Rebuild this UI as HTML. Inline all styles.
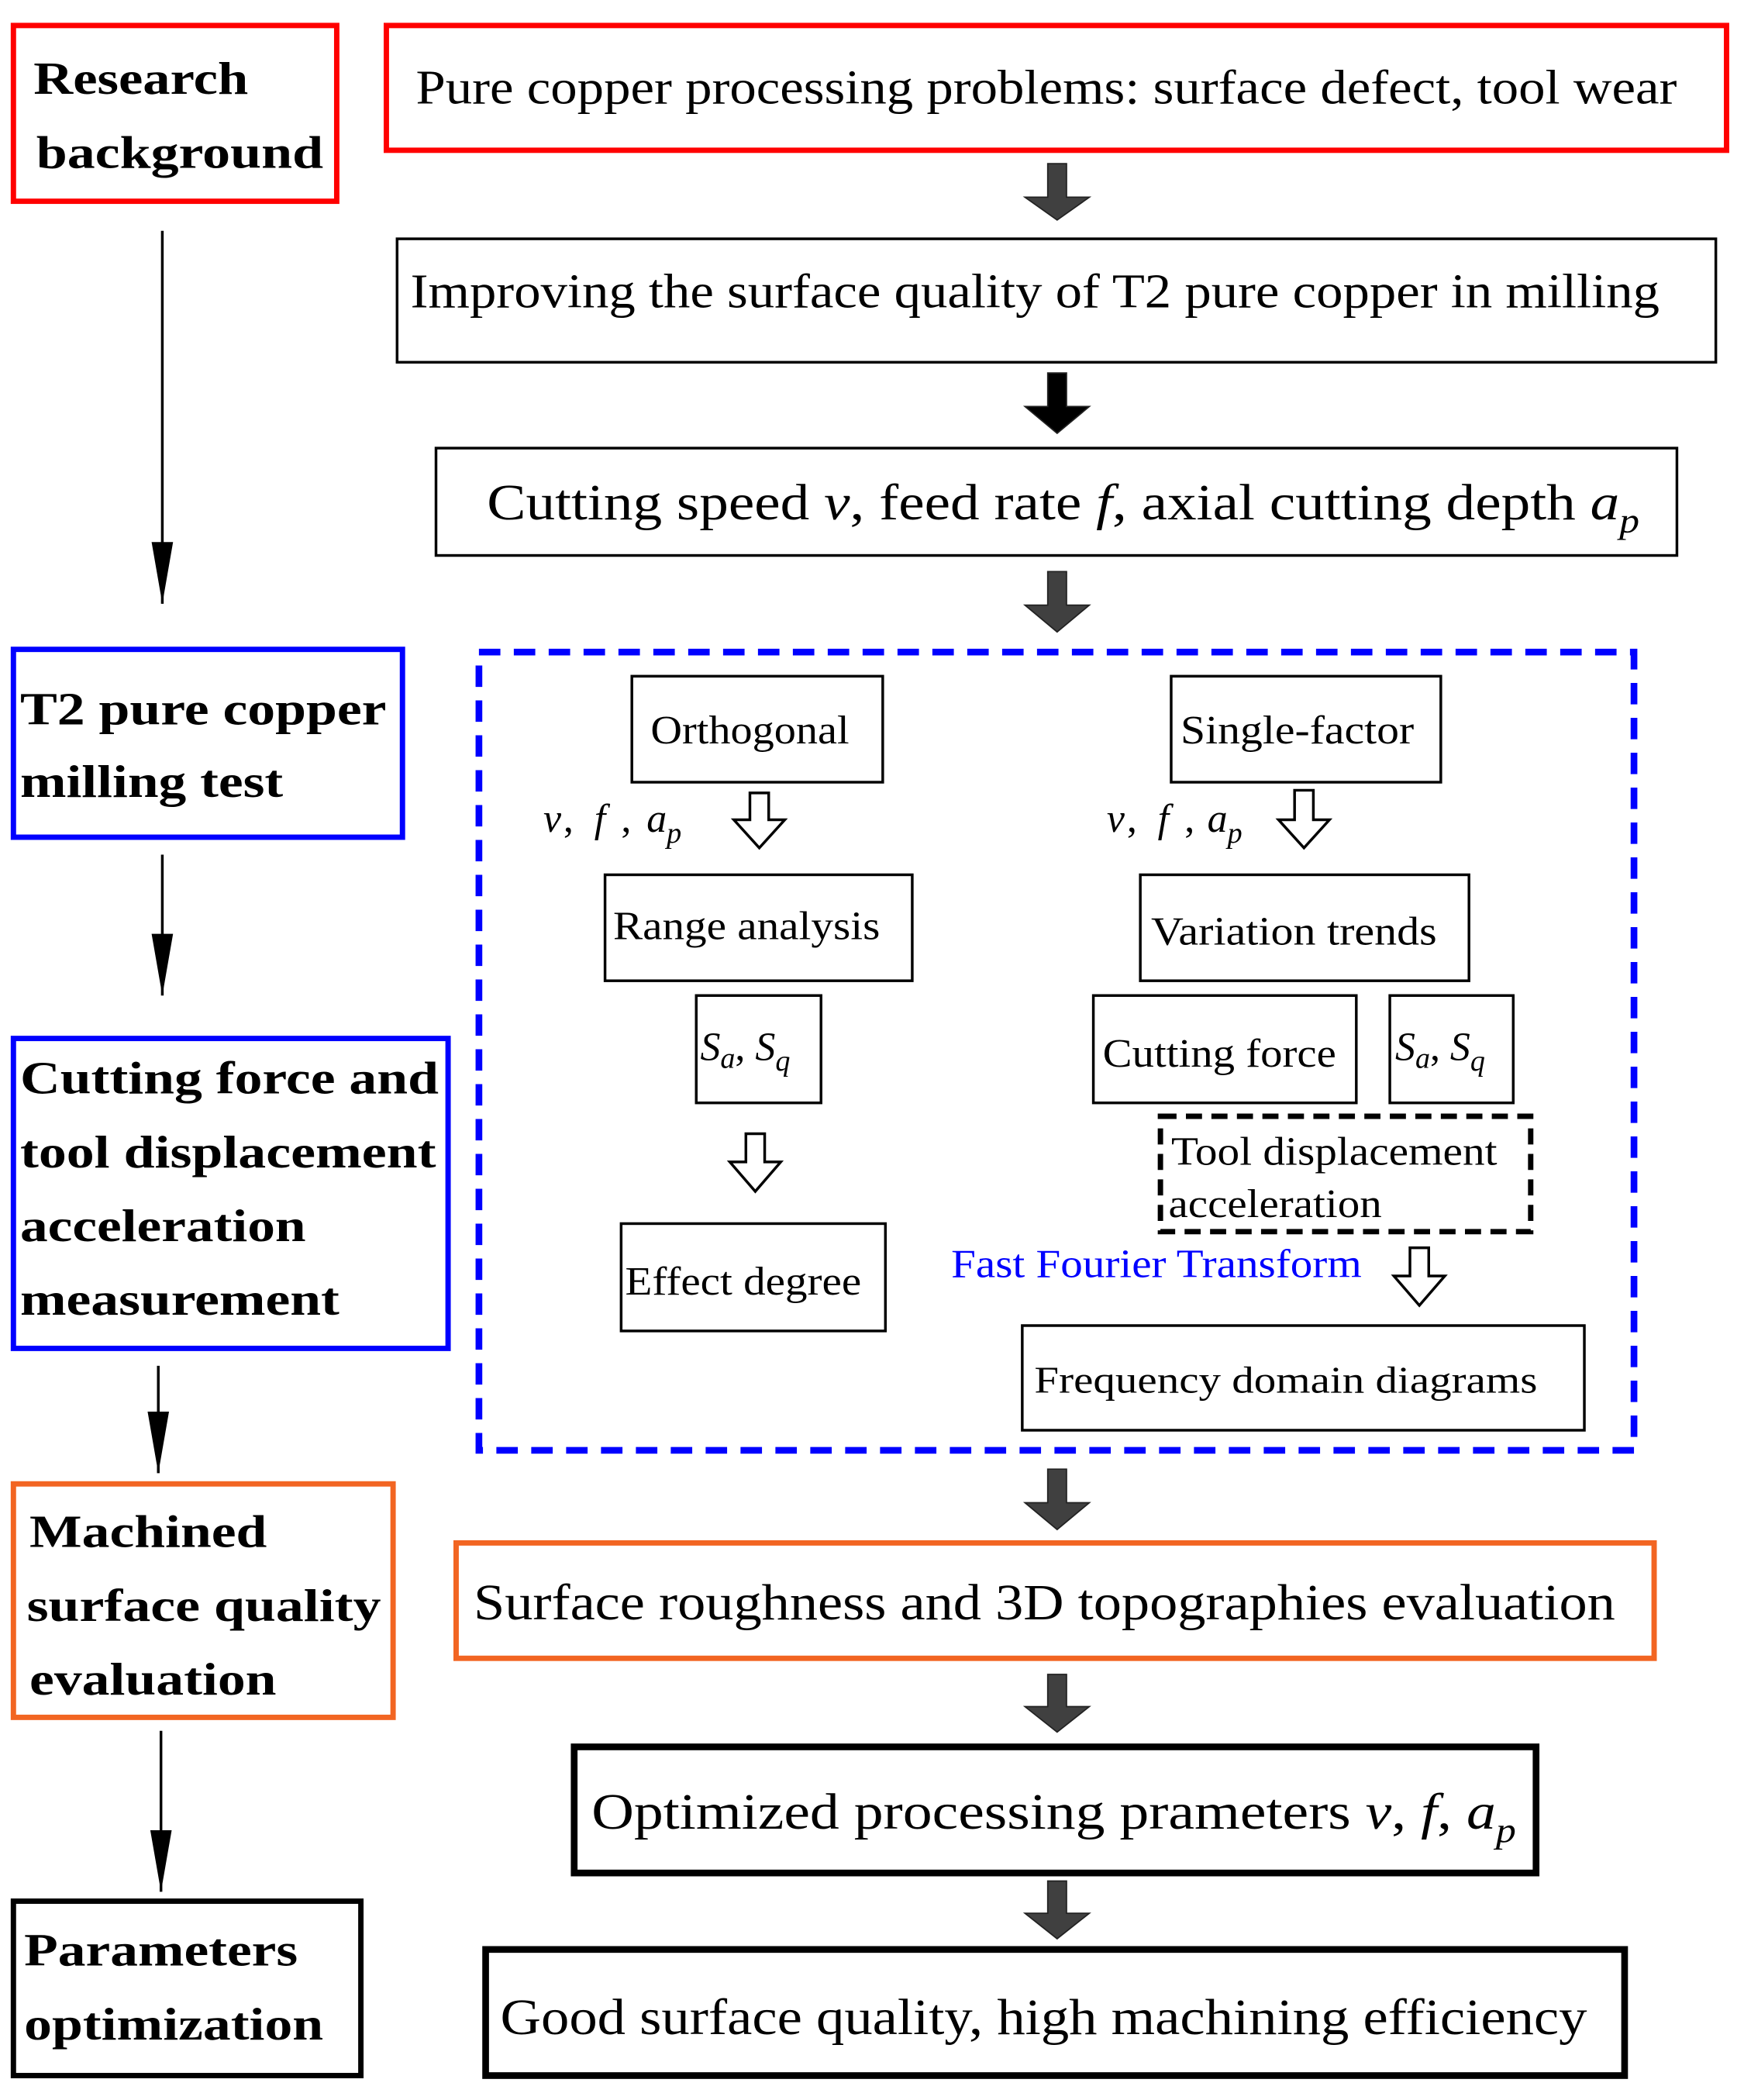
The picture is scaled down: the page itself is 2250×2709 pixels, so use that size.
<!DOCTYPE html>
<html><head><meta charset="utf-8"><style>html,body{margin:0;padding:0;background:#fff}svg{display:block}</style></head>
<body>
<svg width="2250" height="2709" viewBox="0 0 1300 1565.2" xmlns="http://www.w3.org/2000/svg" font-family="'Liberation Serif',serif">
<defs>
<marker id="ah" markerWidth="16" markerHeight="48" refX="8" refY="46" orient="0" markerUnits="userSpaceOnUse"><path d="M0,0 L16,0 L8,46 Z" fill="#000"/></marker>
</defs>
<g fill="none">
<rect x="10" y="19" width="241" height="131" stroke="#f00" stroke-width="4"/>
<rect x="10" y="484" width="290" height="140" stroke="#00f" stroke-width="4"/>
<rect x="10" y="774" width="324" height="231" stroke="#00f" stroke-width="4"/>
<rect x="10" y="1106" width="283" height="174" stroke="#f26522" stroke-width="4"/>
<rect x="10" y="1417" width="259" height="130" stroke="#000" stroke-width="4"/>
<rect x="288" y="19" width="999" height="93" stroke="#f00" stroke-width="4"/>
<rect x="296" y="178" width="983" height="92" stroke="#000" stroke-width="2"/>
<rect x="325" y="334" width="925" height="80" stroke="#000" stroke-width="2"/>
<rect x="357" y="486" width="861" height="595" stroke="#00f" stroke-width="5" stroke-dasharray="16,10"/>
<rect x="340" y="1150" width="893" height="86" stroke="#f26522" stroke-width="4"/>
<rect x="428" y="1302" width="717" height="94" stroke="#000" stroke-width="5"/>
<rect x="362" y="1453" width="849" height="94" stroke="#000" stroke-width="5"/>
<rect x="471" y="504" width="187" height="79" stroke="#000" stroke-width="2"/>
<rect x="873" y="504" width="201" height="79" stroke="#000" stroke-width="2"/>
<rect x="451" y="652" width="229" height="79" stroke="#000" stroke-width="2"/>
<rect x="850" y="652" width="245" height="79" stroke="#000" stroke-width="2"/>
<rect x="519" y="742" width="93" height="80" stroke="#000" stroke-width="2"/>
<rect x="815" y="742" width="196" height="80" stroke="#000" stroke-width="2"/>
<rect x="1036" y="742" width="92" height="80" stroke="#000" stroke-width="2"/>
<rect x="463" y="912" width="197" height="80" stroke="#000" stroke-width="2"/>
<rect x="865" y="832" width="276" height="86" stroke="#000" stroke-width="4" stroke-dasharray="12,7"/>
<rect x="762" y="988" width="419" height="78" stroke="#000" stroke-width="2"/>
<line x1="121" y1="172" x2="121" y2="450" stroke="#000" stroke-width="2" marker-end="url(#ah)"/>
<line x1="121" y1="637" x2="121" y2="742" stroke="#000" stroke-width="2" marker-end="url(#ah)"/>
<line x1="118" y1="1018" x2="118" y2="1098" stroke="#000" stroke-width="2" marker-end="url(#ah)"/>
<line x1="120" y1="1290" x2="120" y2="1410" stroke="#000" stroke-width="2" marker-end="url(#ah)"/>
</g>
<g fill="#404040" stroke="#222" stroke-width="1">
<path d="M781,122 h14 v25 h17 l-24,17 l-24,-17 h17 z"/>
<path d="M781,278 h14 v25 h17 l-24,20 l-24,-20 h17 z" fill="#000"/>
<path d="M781,426 h14 v25 h17 l-24,20 l-24,-20 h17 z"/>
<path d="M781,1095 h14 v25 h17 l-24,20 l-24,-20 h17 z"/>
<path d="M781,1248 h14 v24 h17 l-24,19 l-24,-19 h17 z"/>
<path d="M781,1402 h14 v24 h17 l-24,19 l-24,-19 h17 z"/>
</g>
<g fill="#fff" stroke="#000" stroke-width="2">
<path d="M559,591 h14 v20 h12 l-19,21 l-19,-21 h12 z"/>
<path d="M965,589 h14 v22 h12 l-19,21 l-19,-21 h12 z"/>
<path d="M556,845 h14 v21 h12 l-19,22 l-19,-22 h12 z"/>
<path d="M1051,930 h14 v21 h12 l-19,22 l-19,-22 h12 z"/>
</g>
<g fill="#000" lengthAdjust="spacingAndGlyphs">
<g font-weight="bold" font-size="34">
<text x="25" y="70" textLength="160" lengthAdjust="spacingAndGlyphs">Research</text><text x="27" y="125" textLength="214" lengthAdjust="spacingAndGlyphs">background</text>
<text x="15" y="540" textLength="273" lengthAdjust="spacingAndGlyphs">T2 pure copper</text><text x="15" y="594" textLength="196" lengthAdjust="spacingAndGlyphs">milling test</text>
<text x="15" y="815" textLength="312" lengthAdjust="spacingAndGlyphs">Cutting force and</text><text x="15" y="870" textLength="310" lengthAdjust="spacingAndGlyphs">tool displacement</text><text x="15" y="925" textLength="213" lengthAdjust="spacingAndGlyphs">acceleration</text><text x="15" y="980" textLength="238" lengthAdjust="spacingAndGlyphs">measurement</text>
<text x="22" y="1153" textLength="177" lengthAdjust="spacingAndGlyphs">Machined</text><text x="20" y="1208" textLength="264" lengthAdjust="spacingAndGlyphs">surface quality</text><text x="22" y="1263" textLength="184" lengthAdjust="spacingAndGlyphs">evaluation</text>
<text x="18" y="1465" textLength="204" lengthAdjust="spacingAndGlyphs">Parameters</text><text x="18" y="1520" textLength="223" lengthAdjust="spacingAndGlyphs">optimization</text>
</g>
<g font-size="36">
<text x="310" y="77" textLength="940" lengthAdjust="spacingAndGlyphs">Pure copper processing problems: surface defect, tool wear</text>
<text x="306" y="229" textLength="931" lengthAdjust="spacingAndGlyphs">Improving the surface quality of T2 pure copper in milling</text>
<text x="363" y="387" font-size="38" textLength="859" lengthAdjust="spacingAndGlyphs">Cutting speed <tspan font-style="italic">v</tspan>, feed rate  <tspan font-style="italic">f</tspan>, axial cutting depth <tspan font-style="italic">a</tspan><tspan font-style="italic" font-size="26" dy="10">p</tspan></text>
<text x="353" y="1207" font-size="38" textLength="851" lengthAdjust="spacingAndGlyphs">Surface roughness and 3D topographies evaluation</text>
<text x="441" y="1363" font-size="38" textLength="689" lengthAdjust="spacingAndGlyphs">Optimized processing prameters <tspan font-style="italic">v</tspan>,  <tspan font-style="italic">f</tspan>, <tspan font-style="italic">a</tspan><tspan font-style="italic" font-size="26" dy="10">p</tspan></text>
<text x="373" y="1516" font-size="38" textLength="810" lengthAdjust="spacingAndGlyphs">Good surface quality, high machining efficiency</text>
</g>
<g font-size="30">
<text x="485" y="554" textLength="148" lengthAdjust="spacingAndGlyphs">Orthogonal</text>
<text x="880" y="554" textLength="174" lengthAdjust="spacingAndGlyphs">Single-factor</text>
<text x="405" y="620" font-style="italic">v</text><text x="420" y="620">,</text><text x="443" y="620" font-style="italic">f</text><text x="463" y="620">,</text><text x="482" y="620" font-style="italic">a<tspan font-size="22" dy="8">p</tspan></text>
<text x="825" y="620" font-style="italic">v</text><text x="840" y="620">,</text><text x="863" y="620" font-style="italic">f</text><text x="883" y="620">,</text><text x="900" y="620" font-style="italic">a<tspan font-size="22" dy="8">p</tspan></text>
<text x="457" y="700" textLength="199" lengthAdjust="spacingAndGlyphs">Range analysis</text>
<text x="858" y="704" textLength="213" lengthAdjust="spacingAndGlyphs">Variation trends</text>
<text x="522" y="790" font-style="italic">S<tspan font-size="22" dy="6">a</tspan><tspan dy="-6" font-style="normal">, </tspan>S<tspan font-size="22" dy="8">q</tspan></text>
<text x="1040" y="790" font-style="italic">S<tspan font-size="22" dy="6">a</tspan><tspan dy="-6" font-style="normal">, </tspan>S<tspan font-size="22" dy="8">q</tspan></text>
<text x="822" y="795" textLength="174" lengthAdjust="spacingAndGlyphs">Cutting force</text>
<text x="873" y="868" textLength="243" lengthAdjust="spacingAndGlyphs">Tool displacement</text>
<text x="871" y="907" textLength="159" lengthAdjust="spacingAndGlyphs">acceleration</text>
<text x="466" y="965" textLength="176" lengthAdjust="spacingAndGlyphs">Effect degree</text>
<text x="709" y="952" fill="#00f" textLength="306" lengthAdjust="spacingAndGlyphs">Fast Fourier Transform</text>
<text x="771" y="1038" font-size="28" textLength="375" lengthAdjust="spacingAndGlyphs">Frequency domain diagrams</text>
</g>
</g>
</svg>
</body></html>
